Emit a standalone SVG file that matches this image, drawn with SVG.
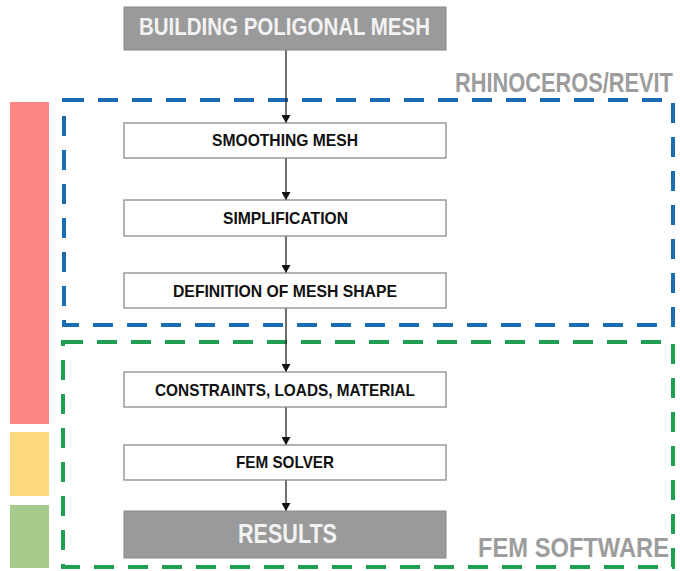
<svg xmlns="http://www.w3.org/2000/svg" width="680" height="571" viewBox="0 0 680 571">
<style>
.box{fill:#fff;stroke:#8a8a8a;stroke-width:1.3}
.dark{fill:#9a9a9a;stroke:#888;stroke-width:1}
.lbl{font-family:"Liberation Sans",Arial,sans-serif;font-weight:bold;font-size:17px;fill:#111;text-anchor:middle}
.big{font-family:"Liberation Sans",Arial,sans-serif;font-weight:bold;fill:#f2f2f2}
.grp{font-family:"Liberation Sans",Arial,sans-serif;font-weight:bold;font-size:27px;fill:#9c9c9c}
.conn{stroke:#222;stroke-width:1.3;fill:none;marker-end:url(#ah)}
.zone{fill:none;stroke-width:4;stroke-dasharray:20 14}
</style>
<defs>
<marker id="ah" markerWidth="9" markerHeight="9" refX="8" refY="4.5" orient="auto" markerUnits="userSpaceOnUse">
<path d="M0,0 L8,4.5 L0,9 z" fill="#111"/>
</marker>
</defs>
<rect width="680" height="571" fill="#fff"/>
<g id="sidebars">
<rect x="10" y="102" width="39" height="322" fill="#fd8583"/>
<rect x="10" y="432" width="39" height="64" fill="#fdd87c"/>
<rect x="10" y="505" width="39" height="63" fill="#a6cb8c"/>
</g>
<g id="zone-rhino">
<rect class="zone" x="64" y="100" width="609" height="225" stroke="#1b6db3"/>
<text class="grp" transform="translate(455,92) scale(0.807,1)" x="0" y="0" textLength="270" lengthAdjust="spacingAndGlyphs">RHINOCEROS/REVIT</text>
</g>
<g id="zone-fem">
<rect class="zone" x="63" y="342" width="610" height="225" stroke="#1f9e4f"/>
<text class="grp" transform="translate(478,557) scale(0.872,1)" x="0" y="0" textLength="219" lengthAdjust="spacingAndGlyphs">FEM SOFTWARE</text>
</g>
<g id="connectors">
<line class="conn" x1="286" y1="50" x2="286" y2="123"/>
<line class="conn" x1="286" y1="158" x2="286" y2="200"/>
<line class="conn" x1="286" y1="236" x2="286" y2="273"/>
<line class="conn" x1="286" y1="308" x2="286" y2="372"/>
<line class="conn" x1="286" y1="407" x2="286" y2="445"/>
<line class="conn" x1="286" y1="480" x2="286" y2="511"/>
</g>
<g id="n-building">
<rect class="dark" x="124" y="7" width="322" height="43"/>
<text class="big" x="139" y="35" font-size="23" textLength="291" lengthAdjust="spacingAndGlyphs">BUILDING POLIGONAL MESH</text>
</g>
<g id="n-smoothing">
<rect class="box" x="124" y="123" width="322" height="35"/>
<text class="lbl" x="285" y="146" textLength="146" lengthAdjust="spacingAndGlyphs">SMOOTHING MESH</text>
</g>
<g id="n-simplification">
<rect class="box" x="124" y="200" width="322" height="36"/>
<text class="lbl" x="285.5" y="224" textLength="125" lengthAdjust="spacingAndGlyphs">SIMPLIFICATION</text>
</g>
<g id="n-definition">
<rect class="box" x="124" y="273" width="322" height="35"/>
<text class="lbl" x="285" y="297" textLength="224" lengthAdjust="spacingAndGlyphs">DEFINITION OF MESH SHAPE</text>
</g>
<g id="n-constraints">
<rect class="box" x="124" y="372" width="322" height="35"/>
<text class="lbl" x="285" y="395.5" textLength="260" lengthAdjust="spacingAndGlyphs">CONSTRAINTS, LOADS, MATERIAL</text>
</g>
<g id="n-solver">
<rect class="box" x="124" y="445" width="322" height="35"/>
<text class="lbl" x="285" y="468" textLength="98" lengthAdjust="spacingAndGlyphs">FEM SOLVER</text>
</g>
<g id="n-results">
<rect class="dark" x="124" y="511" width="322" height="47"/>
<text class="big" x="287.5" y="543" font-size="27" text-anchor="middle" textLength="99" lengthAdjust="spacingAndGlyphs">RESULTS</text>
</g>
</svg>
